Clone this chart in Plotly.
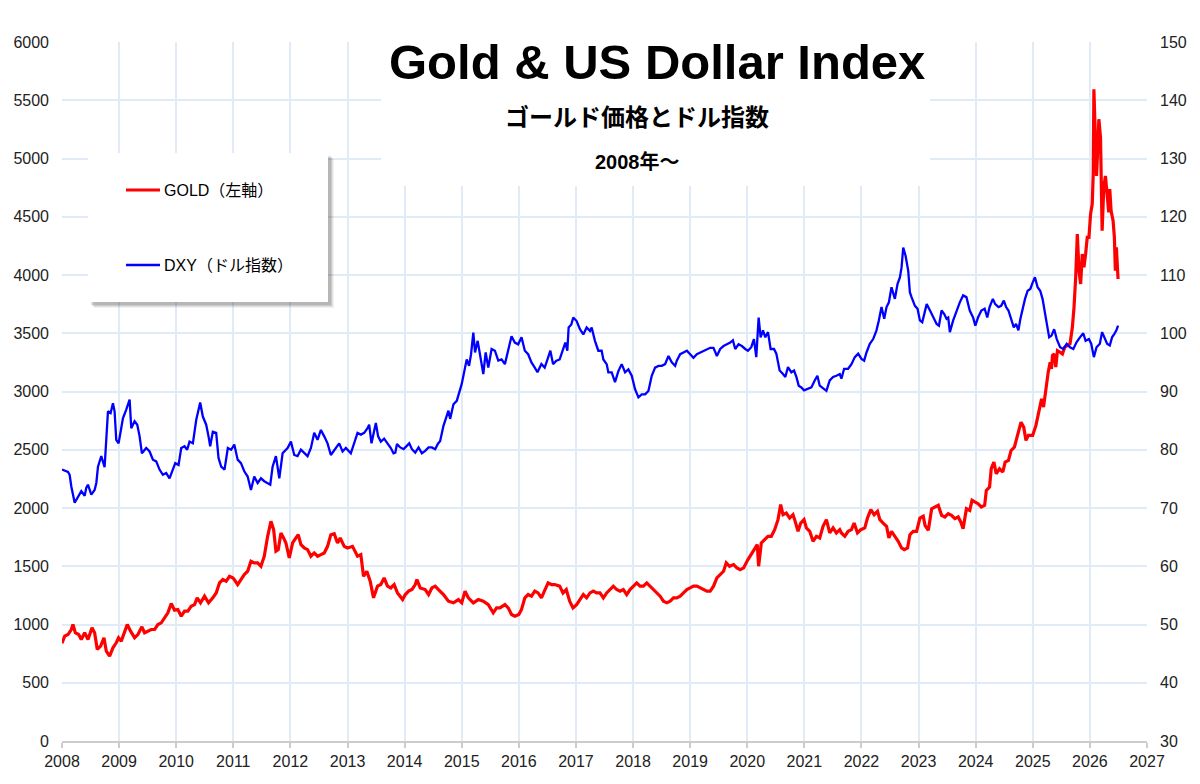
import plotly.graph_objects as go

# ---------------- data (decimal year, value) ----------------
gold_t = [
    2008.000, 2008.047, 2008.105, 2008.163, 2008.192, 2008.233, 2008.292, 2008.338, 2008.397, 2008.455,
    2008.525, 2008.571, 2008.618, 2008.676, 2008.735, 2008.776, 2008.834, 2008.892, 2008.950, 2008.991,
    2009.038, 2009.096, 2009.143, 2009.201, 2009.271, 2009.329, 2009.399, 2009.446, 2009.504, 2009.563,
    2009.621, 2009.679, 2009.738, 2009.796, 2009.854, 2009.913, 2009.971, 2010.029, 2010.088, 2010.146,
    2010.204, 2010.262, 2010.321, 2010.367, 2010.426, 2010.496, 2010.566, 2010.641, 2010.700, 2010.758,
    2010.816, 2010.875, 2010.933, 2010.991,
    2011.017, 2011.076, 2011.134, 2011.192, 2011.251, 2011.309, 2011.367, 2011.426, 2011.484, 2011.542,
    2011.601, 2011.659, 2011.706, 2011.746, 2011.787, 2011.834, 2011.880, 2011.921, 2011.980, 2012.038,
    2012.096, 2012.137, 2012.184, 2012.242, 2012.300, 2012.359, 2012.417, 2012.475, 2012.534, 2012.592,
    2012.650, 2012.708, 2012.767, 2012.825, 2012.872, 2012.942, 2013.000, 2013.087, 2013.175, 2013.233,
    2013.280, 2013.338, 2013.397, 2013.455, 2013.525, 2013.583, 2013.641, 2013.700, 2013.758, 2013.816,
    2013.875, 2013.933, 2013.965,
    2014.012, 2014.070, 2014.128, 2014.186, 2014.215, 2014.273, 2014.360, 2014.419, 2014.477, 2014.535,
    2014.593, 2014.680, 2014.767, 2014.855, 2014.942, 2015.000, 2015.058, 2015.116, 2015.203, 2015.291,
    2015.378, 2015.465, 2015.552, 2015.610, 2015.669, 2015.756, 2015.814, 2015.872, 2015.930, 2016.000,
    2016.047, 2016.105, 2016.163, 2016.221, 2016.279, 2016.337, 2016.395, 2016.453, 2016.512, 2016.570,
    2016.628, 2016.715, 2016.773, 2016.831, 2016.890, 2016.948,
    2017.012, 2017.070, 2017.129, 2017.187, 2017.246, 2017.304, 2017.363, 2017.421, 2017.480, 2017.538,
    2017.596, 2017.655, 2017.713, 2017.772, 2017.830, 2017.889, 2017.947, 2018.006, 2018.064, 2018.123,
    2018.181, 2018.240, 2018.298, 2018.357, 2018.415, 2018.474, 2018.532, 2018.591, 2018.649, 2018.708,
    2018.766, 2018.825, 2018.883, 2018.942, 2019.000, 2019.058, 2019.117, 2019.175, 2019.234, 2019.292,
    2019.351, 2019.409, 2019.468, 2019.526, 2019.585, 2019.632, 2019.690, 2019.760, 2019.819, 2019.877,
    2019.936,
    2020.012, 2020.070, 2020.129, 2020.175, 2020.199, 2020.246, 2020.304, 2020.363, 2020.421, 2020.480,
    2020.538, 2020.585, 2020.626, 2020.684, 2020.743, 2020.801, 2020.830, 2020.889, 2020.936, 2020.994,
    2021.035, 2021.094, 2021.152, 2021.211, 2021.269, 2021.327, 2021.386, 2021.444, 2021.503, 2021.561,
    2021.620, 2021.649, 2021.708, 2021.766, 2021.825, 2021.871, 2021.930, 2021.988, 2022.058, 2022.105,
    2022.164, 2022.222, 2022.281, 2022.322, 2022.380, 2022.439, 2022.480, 2022.526, 2022.585, 2022.643,
    2022.702, 2022.749, 2022.807, 2022.848, 2022.906, 2022.965, 2023.023, 2023.082,
    2023.113, 2023.171, 2023.229, 2023.287, 2023.345, 2023.403, 2023.461, 2023.519, 2023.577, 2023.635,
    2023.693, 2023.739, 2023.780, 2023.838, 2023.896, 2023.936, 2023.983, 2024.041, 2024.099, 2024.157,
    2024.186, 2024.243, 2024.272, 2024.319, 2024.359, 2024.417, 2024.475, 2024.516, 2024.574, 2024.620,
    2024.678, 2024.736, 2024.794, 2024.841, 2024.881, 2024.922, 2024.997, 2025.055, 2025.113, 2025.154,
    2025.188, 2025.229, 2025.270, 2025.304, 2025.328, 2025.345, 2025.374, 2025.403, 2025.432, 2025.478,
    2025.519, 2025.559, 2025.606, 2025.652, 2025.693, 2025.722, 2025.751, 2025.780, 2025.809, 2025.838,
    2025.867, 2025.896, 2025.925, 2025.954, 2025.983, 2026.012, 2026.041, 2026.058, 2026.070, 2026.093,
    2026.116, 2026.139, 2026.157, 2026.186, 2026.214, 2026.243, 2026.272, 2026.301, 2026.330, 2026.348,
    2026.371, 2026.406, 2026.429, 2026.446, 2026.464, 2026.493,
]
gold_v = [
    840, 900, 914, 957, 1000, 929, 914, 871, 929, 871,
    971, 929, 786, 814, 886, 771, 729, 800, 843, 886,
    857, 943, 1000, 943, 886, 914, 980, 929, 943, 957,
    957, 1000, 1014, 1057, 1100, 1180, 1123, 1129, 1071, 1114,
    1114, 1157, 1171, 1229, 1186, 1243, 1186, 1229, 1271, 1357,
    1386, 1371, 1414, 1400,
    1386, 1343, 1386, 1429, 1457, 1543, 1529, 1529, 1500, 1586,
    1757, 1886, 1814, 1629, 1643, 1786, 1743, 1700, 1571, 1700,
    1743, 1771, 1686, 1657, 1643, 1586, 1614, 1586, 1600, 1614,
    1671, 1771, 1780, 1700, 1743, 1671, 1657, 1671, 1586, 1600,
    1414, 1457, 1371, 1229, 1329, 1343, 1400, 1329, 1314, 1343,
    1271, 1229, 1214,
    1257, 1286, 1300, 1343, 1386, 1314, 1300, 1257, 1314, 1329,
    1300, 1257, 1200, 1186, 1214, 1186, 1286, 1229, 1186, 1214,
    1200, 1171, 1100, 1143, 1143, 1171, 1143, 1086, 1071, 1086,
    1129, 1229, 1257, 1243, 1286, 1271, 1229, 1300, 1357, 1343,
    1343, 1329, 1271, 1300, 1200, 1143,
    1171, 1214, 1257, 1229, 1271, 1286, 1271, 1271, 1229, 1271,
    1300, 1329, 1300, 1286, 1300, 1257, 1300, 1329, 1357, 1329,
    1329, 1357, 1329, 1300, 1271, 1243, 1200, 1186, 1200, 1229,
    1229, 1243, 1271, 1300, 1314, 1329, 1329, 1314, 1300, 1286,
    1286, 1329, 1400, 1429, 1457, 1529, 1500, 1514, 1486, 1471,
    1486,
    1557, 1600, 1643, 1686, 1500, 1700, 1729, 1757, 1757, 1814,
    1900, 2029, 1943, 1957, 1914, 1943, 1900, 1800, 1871, 1900,
    1829, 1800, 1714, 1757, 1743, 1843, 1900, 1786, 1829, 1786,
    1814, 1786, 1757, 1800, 1814, 1871, 1786, 1814, 1829, 1914,
    1986, 1943, 1971, 1900, 1871, 1843, 1743, 1800, 1757, 1714,
    1657, 1643, 1657, 1771, 1800, 1800, 1914, 1929,
    1851, 1809, 1994, 2009, 2023, 1937, 1923, 1951, 1937, 1909,
    1923, 1880, 1823, 1994, 1980, 2066, 2051, 2037, 2009, 2023,
    2151, 2180, 2337, 2394, 2294, 2337, 2309, 2394, 2409, 2494,
    2523, 2637, 2737, 2694, 2580, 2623, 2623, 2709, 2851, 2937,
    2866, 3023, 3166, 3251, 3194, 3309, 3323, 3209, 3351, 3337,
    3323, 3380, 3394, 3409, 3551, 3723, 3980, 4351, 4037, 3923,
    4180, 4066, 4180, 4323, 4323, 4523, 4609, 4866, 5594, 5123,
    4851, 5094, 5337, 5180, 4380, 4751, 4851, 4694, 4537, 4737,
    4551, 4466, 4323, 4037, 4237, 3966,
]

dxy_t = [
    2008.000, 2008.047, 2008.105, 2008.134, 2008.163, 2008.222, 2008.280, 2008.338, 2008.397, 2008.426,
    2008.455, 2008.513, 2008.571, 2008.601, 2008.630, 2008.688, 2008.746, 2008.776, 2008.805, 2008.851,
    2008.892, 2008.921, 2008.950, 2008.991, 2009.038, 2009.067, 2009.125, 2009.184, 2009.213, 2009.271,
    2009.318, 2009.359, 2009.399, 2009.475, 2009.534, 2009.592, 2009.650, 2009.708, 2009.767, 2009.825,
    2009.883, 2009.942, 2009.983, 2010.041, 2010.088, 2010.146, 2010.192, 2010.233, 2010.292, 2010.350,
    2010.420, 2010.466, 2010.525, 2010.566, 2010.595, 2010.641, 2010.700, 2010.741, 2010.787, 2010.846,
    2010.904, 2010.962,
    2011.017, 2011.076, 2011.134, 2011.192, 2011.251, 2011.309, 2011.367, 2011.426, 2011.484, 2011.542,
    2011.601, 2011.647, 2011.688, 2011.746, 2011.805, 2011.863, 2011.950, 2012.009, 2012.067, 2012.125,
    2012.184, 2012.242, 2012.300, 2012.359, 2012.417, 2012.475, 2012.534, 2012.592, 2012.650, 2012.708,
    2012.767, 2012.854, 2012.913, 2012.971, 2013.058, 2013.117, 2013.175, 2013.233, 2013.292, 2013.350,
    2013.379, 2013.420, 2013.496, 2013.536, 2013.583, 2013.641, 2013.700, 2013.758, 2013.805,
    2013.837, 2013.866, 2013.924, 2013.983, 2014.041, 2014.081, 2014.128, 2014.186, 2014.244, 2014.302,
    2014.360, 2014.419, 2014.477, 2014.535, 2014.581, 2014.622, 2014.680, 2014.738, 2014.767, 2014.797,
    2014.855, 2014.913, 2014.942, 2015.000, 2015.058, 2015.087, 2015.128, 2015.163, 2015.203, 2015.233,
    2015.279, 2015.320, 2015.378, 2015.419, 2015.465, 2015.523, 2015.581, 2015.640, 2015.698, 2015.756,
    2015.814, 2015.872, 2015.930, 2015.988, 2016.047, 2016.105, 2016.163, 2016.221, 2016.279, 2016.326,
    2016.395, 2016.453, 2016.512, 2016.552, 2016.599, 2016.657, 2016.715, 2016.773, 2016.814, 2016.849,
    2016.872, 2016.919,
    2016.953, 2017.012, 2017.070, 2017.129, 2017.187, 2017.246, 2017.275, 2017.333, 2017.392, 2017.450,
    2017.480, 2017.538, 2017.567, 2017.626, 2017.684, 2017.743, 2017.801, 2017.860, 2017.918, 2017.977,
    2018.035, 2018.094, 2018.152, 2018.211, 2018.269, 2018.327, 2018.386, 2018.444, 2018.503, 2018.561,
    2018.620, 2018.678, 2018.737, 2018.766, 2018.825, 2018.883, 2018.942, 2019.000, 2019.058, 2019.117,
    2019.175, 2019.234, 2019.292, 2019.351, 2019.409, 2019.468, 2019.526, 2019.585, 2019.643, 2019.702,
    2019.749, 2019.789, 2019.848, 2019.906, 2019.965,
    2020.012, 2020.070, 2020.117, 2020.158, 2020.199, 2020.234, 2020.275, 2020.316, 2020.363, 2020.409,
    2020.468, 2020.509, 2020.538, 2020.567, 2020.626, 2020.667, 2020.713, 2020.772, 2020.819, 2020.860,
    2020.901, 2020.947, 2020.994, 2021.064, 2021.123, 2021.181, 2021.228, 2021.269, 2021.327, 2021.386,
    2021.444, 2021.503, 2021.561, 2021.620, 2021.649, 2021.696, 2021.766, 2021.825, 2021.883, 2021.942,
    2022.000, 2022.047, 2022.088, 2022.146, 2022.205, 2022.263, 2022.304, 2022.351, 2022.398, 2022.439,
    2022.480, 2022.526, 2022.585, 2022.632, 2022.673, 2022.702, 2022.731, 2022.772, 2022.819, 2022.848,
    2022.877, 2022.936, 2022.982, 2023.023, 2023.064, 2023.111,
    2023.142, 2023.200, 2023.258, 2023.316, 2023.357, 2023.403, 2023.449, 2023.490, 2023.519, 2023.548,
    2023.606, 2023.664, 2023.722, 2023.780, 2023.838, 2023.896, 2023.954, 2023.994, 2024.041, 2024.099,
    2024.157, 2024.203, 2024.243, 2024.301, 2024.342, 2024.400, 2024.446, 2024.493, 2024.533, 2024.574,
    2024.620, 2024.667, 2024.707, 2024.748, 2024.783, 2024.823, 2024.864, 2024.910, 2024.957, 2024.997,
    2025.038, 2025.084, 2025.130, 2025.171, 2025.212, 2025.246, 2025.287, 2025.328, 2025.374, 2025.420,
    2025.478, 2025.536, 2025.594, 2025.652, 2025.710, 2025.768, 2025.826, 2025.884, 2025.925, 2025.983,
    2026.023, 2026.070, 2026.116, 2026.174, 2026.214, 2026.255, 2026.301, 2026.348, 2026.388, 2026.429,
    2026.464, 2026.493,
]
dxy_v = [
    76.6, 76.4, 76.2, 75.7, 73.7, 70.9, 72.0, 72.9, 72.1, 73.5,
    74.0, 72.3, 73.1, 74.3, 77.1, 78.9, 77.0, 82.9, 86.6, 86.3,
    88.0, 86.6, 81.7, 81.1, 83.4, 85.4, 86.9, 88.6, 83.7, 84.9,
    84.3, 82.3, 79.4, 80.3, 79.7, 78.3, 78.0, 76.6, 75.7, 76.0,
    75.1, 76.6, 77.7, 77.4, 80.3, 80.6, 80.0, 81.4, 81.1, 85.1,
    88.1, 85.7, 84.3, 82.3, 80.6, 83.1, 82.9, 78.6, 77.1, 76.6,
    80.3, 80.0,
    80.9, 78.3, 77.7, 76.3, 75.4, 73.1, 75.4, 74.3, 75.1, 74.6,
    74.3, 74.0, 77.1, 78.9, 75.1, 79.4, 80.3, 81.4, 79.1, 78.9,
    80.0, 79.4, 78.9, 80.3, 82.9, 81.7, 83.4, 82.3, 81.1, 79.1,
    80.0, 81.1, 79.7, 80.3, 79.4, 81.4, 82.9, 82.6, 82.9, 83.7,
    84.3, 81.1, 84.6, 82.3, 81.4, 81.9, 81.1, 80.3, 79.4,
    79.5, 81.0, 80.4, 80.1, 80.7, 81.1, 80.1, 79.5, 80.4, 79.4,
    79.8, 80.4, 80.4, 80.1, 81.0, 81.5, 84.1, 86.1, 86.7, 85.3,
    87.8, 88.4, 89.5, 91.3, 94.1, 95.5, 94.4, 96.4, 100.1, 96.7,
    98.7, 96.1, 93.0, 96.7, 94.1, 97.3, 97.0, 95.3, 95.5, 94.7,
    97.0, 99.5, 98.4, 98.1, 99.3, 97.0, 96.4, 95.0, 94.1, 93.3,
    94.7, 94.1, 95.8, 97.0, 94.7, 95.3, 95.5, 97.0, 98.4, 97.0,
    101.0, 101.5,
    102.7, 102.1, 100.7, 99.8, 101.0, 100.4, 101.0, 98.7, 97.0, 97.0,
    95.5, 94.7, 93.3, 93.3, 91.6, 93.5, 94.7, 93.3, 93.8, 92.7,
    90.4, 89.0, 89.5, 89.5, 90.1, 92.7, 94.1, 94.4, 94.4, 94.7,
    96.1, 95.0, 94.4, 95.3, 96.4, 96.7, 97.0, 96.4, 95.8, 96.4,
    96.7, 97.0, 97.3, 97.5, 97.5, 96.1, 97.3, 97.8, 98.1, 98.4,
    98.8, 97.3, 98.1, 97.8, 97.3,
    97.0, 97.6, 99.0, 95.9, 102.7, 99.3, 100.5, 99.3, 100.2, 97.3,
    97.3, 96.5, 95.3, 93.6, 93.0, 92.5, 94.2, 93.3, 93.6, 92.5,
    91.0, 90.7, 90.2, 90.5, 90.7, 91.9, 92.7, 91.0, 90.5, 90.1,
    91.9, 92.5, 92.7, 93.0, 92.2, 93.9, 93.9, 94.7, 95.9, 96.5,
    95.6, 95.3, 96.7, 98.2, 99.0, 100.5, 102.2, 104.5, 102.5, 104.5,
    105.3, 107.9, 105.9, 108.5, 109.6, 111.3, 114.7, 113.3, 110.7, 107.0,
    106.2, 104.7, 104.2, 102.2, 101.9, 103.6,
    105.0, 103.9, 102.7, 101.6, 101.3, 103.9, 103.3, 102.5, 102.7, 100.2,
    102.2, 103.9, 105.3, 106.5, 106.2, 103.9, 102.7, 101.3, 102.7, 103.9,
    104.2, 102.7, 104.5, 105.9, 105.0, 104.5, 104.7, 105.6, 104.5, 103.9,
    102.5, 101.0, 101.6, 100.5, 102.5, 104.5, 105.9, 107.3, 107.6, 108.7,
    109.6, 107.9, 107.3, 105.9, 103.9, 101.6, 99.3, 99.6, 100.7, 99.0,
    97.6, 97.3, 98.2, 97.6, 97.3, 98.5, 99.3, 100.0, 98.7, 99.0,
    98.2, 95.9, 97.6, 98.2, 100.2, 99.3, 98.2, 97.9, 99.3, 99.9,
    100.5, 101.3,
]

year_ticks = list(range(2008, 2028))
gold_ticks = list(range(0, 6001, 500))
dxy_ticks = list(range(30, 151, 10))

series_names = ["GOLD（左軸）", "DXY（ドル指数）"]
title_text = "Gold & US Dollar Index"
subtitle_text = "ゴールド価格とドル指数"
period_text = "2008年～"

assert len(gold_t) == len(gold_v), (len(gold_t), len(gold_v))
assert len(dxy_t) == len(dxy_v), (len(dxy_t), len(dxy_v))

# ---------------- layout helpers ----------------
W, H = 1200, 784
L, R, T, B = 62, 53, 42, 43
PW, PH = W - L - R, H - T - B


def px(x):
    return (x - L) / PW


def py(y):
    return (H - B - y) / PH


LAT = "Liberation Sans, Arial, Noto Sans CJK JP, sans-serif"
CJK = "Noto Sans CJK JP, Liberation Sans, sans-serif"
GRID = "#e1ebf7"

fig = go.Figure()
fig.add_trace(go.Scatter(
    x=dxy_t, y=dxy_v, yaxis="y2", mode="lines", name=series_names[1],
    line=dict(color="#0000ff", width=2.3), showlegend=False, hoverinfo="skip"))
fig.add_trace(go.Scatter(
    x=gold_t, y=gold_v, mode="lines", name=series_names[0],
    line=dict(color="#ff0000", width=3.2), showlegend=False, hoverinfo="skip"))

shapes = []
# title background box
shapes.append(dict(type="rect", xref="paper", yref="paper", layer="above",
                   x0=px(381), x1=px(930), y0=py(28), y1=py(186),
                   fillcolor="white", line=dict(width=0)))
# legend shadow (soft)
for d, a in [(6, 0.05), (5, 0.07), (4, 0.09), (3, 0.10)]:
    shapes.append(dict(type="rect", xref="paper", yref="paper", layer="above",
                       x0=px(88 + d), x1=px(328 + d), y0=py(153 + d), y1=py(302 + d),
                       fillcolor=f"rgba(0,0,0,{a})", line=dict(width=0)))
shapes.append(dict(type="rect", xref="paper", yref="paper", layer="above",
                   x0=px(88), x1=px(328), y0=py(153), y1=py(302),
                   fillcolor="white", line=dict(width=0)))
# legend sample lines
shapes.append(dict(type="line", xref="paper", yref="paper", layer="above",
                   x0=px(126), x1=px(160), y0=py(190), y1=py(190),
                   line=dict(color="#ff0000", width=3)))
shapes.append(dict(type="line", xref="paper", yref="paper", layer="above",
                   x0=px(126), x1=px(160), y0=py(265), y1=py(265),
                   line=dict(color="#0000ff", width=2.5)))

annotations = [
    dict(text=f"<b>{title_text}</b>", x=px(657), y=py(62), xref="paper", yref="paper",
         xanchor="center", yanchor="middle", showarrow=False,
         font=dict(family=LAT, size=49, color="#000000")),
    dict(text=f"<b>{subtitle_text}</b>", x=px(637), y=py(115), xref="paper", yref="paper",
         xanchor="center", yanchor="middle", showarrow=False,
         font=dict(family=CJK, size=24, color="#000000")),
    dict(text=f"<b>{period_text}</b>", x=px(637), y=py(162), xref="paper", yref="paper",
         xanchor="center", yanchor="middle", showarrow=False,
         font=dict(family=LAT, size=20, color="#000000")),
    dict(text=series_names[0], x=px(162), y=py(190), xref="paper", yref="paper",
         xanchor="left", yanchor="middle", showarrow=False,
         font=dict(family=LAT, size=16, color="#000000")),
    dict(text=series_names[1], x=px(162), y=py(265), xref="paper", yref="paper",
         xanchor="left", yanchor="middle", showarrow=False,
         font=dict(family=LAT, size=16, color="#000000")),
]

fig.update_layout(
    width=W, height=H,
    margin=dict(l=L, r=R, t=T, b=B, pad=0),
    paper_bgcolor="white", plot_bgcolor="white",
    font=dict(family=LAT, size=16, color="#222222"),
    showlegend=False,
    xaxis=dict(range=[2008, 2027], tickmode="array", tickvals=year_ticks,
               ticktext=[str(y) for y in year_ticks],
               showgrid=True, gridcolor=GRID, gridwidth=1.5,
               showline=True, linecolor="#cccccc", linewidth=1.5,
               ticks="outside", ticklen=5, tickcolor="#cccccc", tickwidth=1.5,
               zeroline=False, tickfont=dict(size=16, color="#222222")),
    yaxis=dict(range=[0, 6000], tickmode="array", tickvals=gold_ticks,
               showgrid=True, gridcolor=GRID, gridwidth=1.5,
               zeroline=False, showline=False, ticks="",
               ticklabelstandoff=12, tickfont=dict(size=16, color="#222222")),
    yaxis2=dict(range=[30, 150], tickmode="array", tickvals=dxy_ticks,
                overlaying="y", side="right", showgrid=False, zeroline=False,
                showline=False, ticks="", ticklabelstandoff=12,
                tickfont=dict(size=16, color="#222222")),
    shapes=shapes,
    annotations=annotations,
)

fig.write_html("out.html")
